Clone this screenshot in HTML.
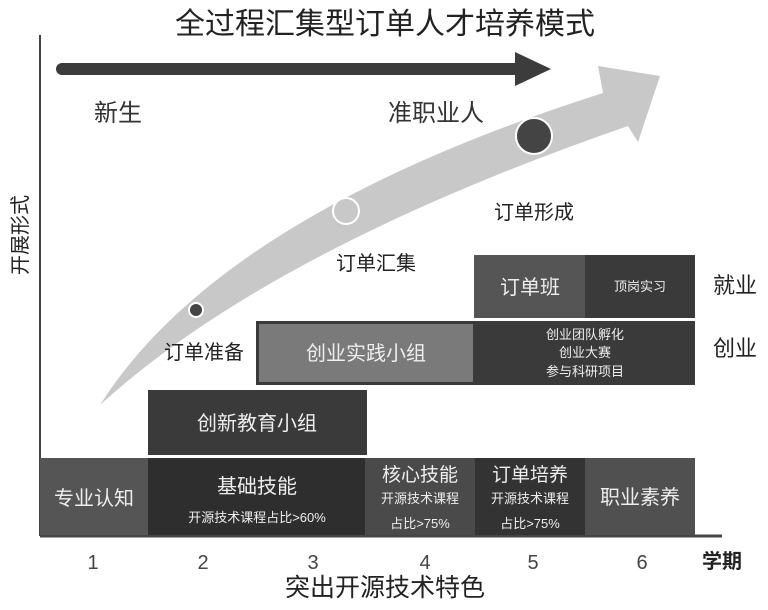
<!DOCTYPE html>
<html><head><meta charset="utf-8"><style>
body{margin:0;background:#fff;}
svg text{font-family:"Liberation Sans","Noto Sans CJK SC",sans-serif;}
</style></head><body>
<svg width="768" height="605" viewBox="0 0 768 605" xmlns="http://www.w3.org/2000/svg">
<rect width="768" height="605" fill="#fff"/>
<text x="385" y="34" font-size="30" text-anchor="middle" fill="#222">全过程汇集型订单人才培养模式</text>
<line x1="40" y1="35" x2="40" y2="536" stroke="#444" stroke-width="2"/>
<line x1="40" y1="536" x2="722" y2="536" stroke="#444" stroke-width="3"/>
<text transform="translate(27,235) rotate(-90)" font-size="20" text-anchor="middle" fill="#222">开展形式</text>
<!-- dark arrow -->
<line x1="62" y1="69" x2="520" y2="69" stroke="#3c3c3c" stroke-width="12" stroke-linecap="round"/>
<polygon points="515,52 551,69 515,86" fill="#3c3c3c"/>
<!-- grey curved arrow -->
<path d="M100,405 Q220,215 603,93 L598,66 L660,76 L638,142 L628,126 Q270,250 100,405 Z" fill="#c8c8c8"/>
<circle cx="196" cy="310" r="7" fill="#444" stroke="#fff" stroke-width="2"/>
<circle cx="346" cy="211" r="13" fill="#c8c8c8" stroke="#fff" stroke-width="2"/>
<circle cx="534" cy="136" r="18" fill="#444" stroke="#fff" stroke-width="2"/>
<text x="118" y="121" font-size="24" text-anchor="middle" fill="#333">新生</text>
<text x="436" y="121" font-size="24" text-anchor="middle" fill="#333">准职业人</text>
<text x="534" y="219" font-size="20" text-anchor="middle" fill="#222">订单形成</text>
<text x="376" y="270" font-size="20" text-anchor="middle" fill="#222">订单汇集</text>
<text x="204" y="359" font-size="20" text-anchor="middle" fill="#222">订单准备</text>
<!-- row: 订单班 -->
<rect x="474" y="255" width="111" height="63" fill="#555"/>
<rect x="585" y="255" width="110" height="63" fill="#3a3a3a"/>
<text x="530" y="294" font-size="20" text-anchor="middle" fill="#eee">订单班</text>
<text x="640" y="291" font-size="13" text-anchor="middle" fill="#eee">顶岗实习</text>
<text x="735" y="293" font-size="22" text-anchor="middle" fill="#222">就业</text>
<!-- 创业 row -->
<rect x="256" y="321" width="219" height="64" fill="#3a3a3a"/>
<rect x="259" y="324" width="214" height="58" fill="#7a7a7a"/>
<rect x="475" y="321" width="220" height="64" fill="#3a3a3a"/>
<text x="366" y="360" font-size="20" text-anchor="middle" fill="#eee">创业实践小组</text>
<text x="585" y="339" font-size="13" text-anchor="middle" fill="#eee">创业团队孵化</text>
<text x="585" y="357" font-size="13" text-anchor="middle" fill="#eee">创业大赛</text>
<text x="585" y="376" font-size="13" text-anchor="middle" fill="#eee">参与科研项目</text>
<text x="735" y="356" font-size="22" text-anchor="middle" fill="#222">创业</text>
<!-- 创新教育 -->
<rect x="148" y="390" width="219" height="65" fill="#3a3a3a"/>
<text x="257" y="430" font-size="20" text-anchor="middle" fill="#eee">创新教育小组</text>
<!-- bottom row -->
<rect x="40" y="458" width="108" height="77" fill="#555"/>
<rect x="148" y="458" width="217" height="77" fill="#2e2e2e"/>
<rect x="365" y="458" width="110" height="77" fill="#4a4a4a"/>
<rect x="475" y="458" width="110" height="77" fill="#333"/>
<rect x="585" y="458" width="110" height="77" fill="#505050"/>
<text x="94" y="505" font-size="20" text-anchor="middle" fill="#eee">专业认知</text>
<text x="257" y="493" font-size="20" text-anchor="middle" fill="#eee">基础技能</text>
<text x="257" y="522" font-size="13" text-anchor="middle" fill="#eee">开源技术课程占比&gt;60%</text>
<text x="420" y="481" font-size="19" text-anchor="middle" fill="#eee">核心技能</text>
<text x="420" y="503" font-size="13" text-anchor="middle" fill="#eee">开源技术课程</text>
<text x="420" y="528" font-size="13" text-anchor="middle" fill="#eee">占比&gt;75%</text>
<text x="530" y="481" font-size="19" text-anchor="middle" fill="#eee">订单培养</text>
<text x="530" y="503" font-size="13" text-anchor="middle" fill="#eee">开源技术课程</text>
<text x="530" y="528" font-size="13" text-anchor="middle" fill="#eee">占比&gt;75%</text>
<text x="640" y="504" font-size="20" text-anchor="middle" fill="#eee">职业素养</text>
<!-- numbers -->
<g font-size="20" fill="#444" text-anchor="middle">
<text x="93" y="569">1</text><text x="203" y="569">2</text><text x="313" y="569">3</text>
<text x="425" y="569">4</text><text x="533" y="569">5</text><text x="642" y="569">6</text>
</g>
<text x="722" y="568" font-size="20" font-weight="bold" text-anchor="middle" fill="#222">学期</text>
<text x="385" y="596" font-size="25" text-anchor="middle" fill="#222">突出开源技术特色</text>
</svg>
</body></html>
